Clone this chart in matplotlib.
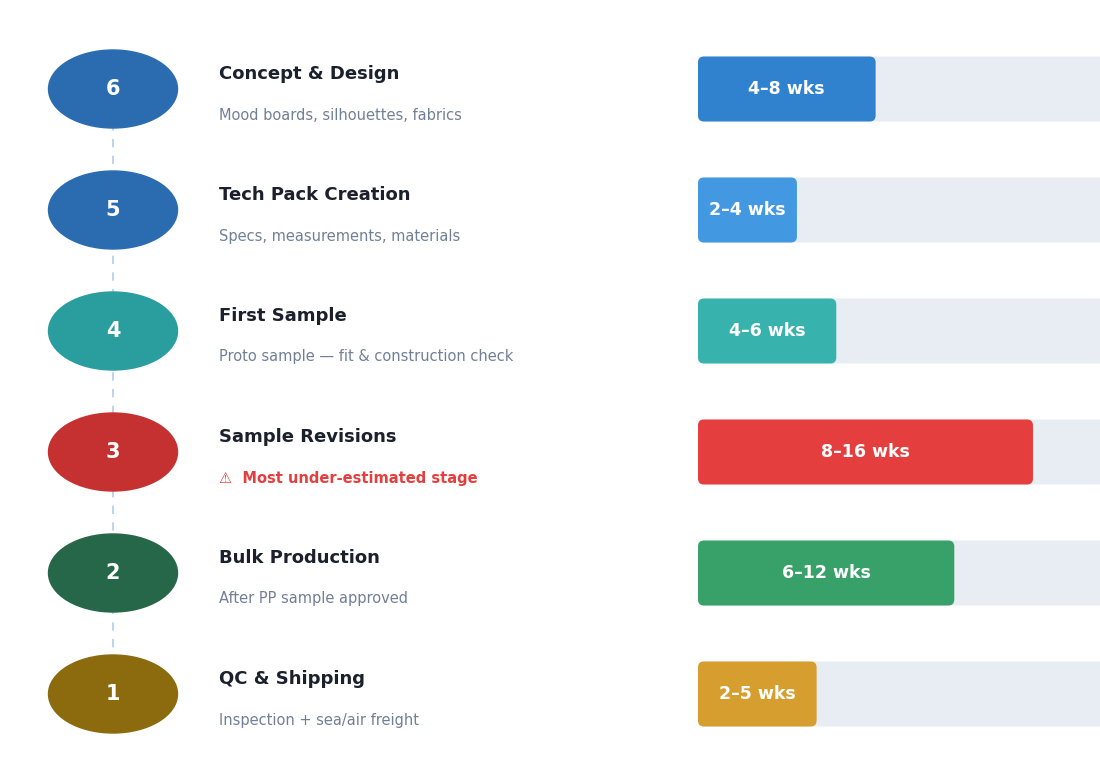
import matplotlib.pyplot as plt
from matplotlib.patches import Ellipse, FancyBboxPatch

# data
steps = [6, 5, 4, 3, 2, 1]
titles = ["Concept & Design", "Tech Pack Creation", "First Sample",
          "Sample Revisions", "Bulk Production", "QC & Shipping"]
subtitles = ["Mood boards, silhouettes, fabrics", "Specs, measurements, materials",
             "Proto sample \u2014 fit & construction check", "\u26a0  Most under-estimated stage",
             "After PP sample approved", "Inspection + sea/air freight"]
weeks_min = [4, 2, 4, 8, 6, 2]
weeks_max = [8, 4, 6, 16, 12, 5]
circle_colors = ["#2B6CB0", "#2B6CB0", "#2A9D9F", "#C53030", "#276749", "#8B6B0E"]
bar_colors = ["#3182CE", "#4299E1", "#38B2AC", "#E53E3E", "#38A169", "#D69E2E"]
warn_row = 3

W, H = 1100, 766
fig = plt.figure(figsize=(W / 100, H / 100), dpi=100)
ax = fig.add_axes([0, 0, 1, 1])
ax.set_xlim(0, W)
ax.set_ylim(H, 0)
ax.axis("off")

row_y0, row_gap = 89, 121
bar_x0, bar_h = 698, 65
px_per_week = 19.67


def bar_width(wmax):
    # bar length is proportional to max weeks plus a one-week base
    return px_per_week * (wmax + 1.03)


ys = [row_y0 + i * row_gap for i in range(len(steps))]
ax.plot([113, 113], [ys[0], ys[-1]], ls=(0, (4, 4)), color="#BFD4EE", lw=1.5, zorder=1)

for i, y in enumerate(ys):
    ax.add_patch(Ellipse((113, y), 129, 78, color=circle_colors[i], zorder=2))
    ax.text(113, y, str(steps[i]), color="white", fontsize=15, fontweight="bold",
            ha="center", va="center", zorder=3)
    ax.text(219, y - 15, titles[i], color="#1A202C", fontsize=13, fontweight="bold",
            ha="left", va="center")
    if i == warn_row:
        ax.text(219, y + 26, subtitles[i], color="#E53E3E", fontsize=10.5,
                fontweight="bold", ha="left", va="center")
    else:
        ax.text(219, y + 26, subtitles[i], color="#718096", fontsize=10.5,
                ha="left", va="center")
    # track
    ax.add_patch(FancyBboxPatch((bar_x0, y - bar_h / 2), W - bar_x0 + 20, bar_h,
                                boxstyle="round,pad=0,rounding_size=5",
                                color="#E8EDF3", lw=0, zorder=1))
    bw = bar_width(weeks_max[i])
    ax.add_patch(FancyBboxPatch((bar_x0, y - bar_h / 2), bw, bar_h,
                                boxstyle="round,pad=0,rounding_size=6",
                                color=bar_colors[i], lw=0, zorder=2))
    ax.text(bar_x0 + bw / 2, y, f"{weeks_min[i]}\u2013{weeks_max[i]} wks", color="white",
            fontsize=12.5, fontweight="bold", ha="center", va="center", zorder=3)

fig.savefig("out.png", dpi=100)
